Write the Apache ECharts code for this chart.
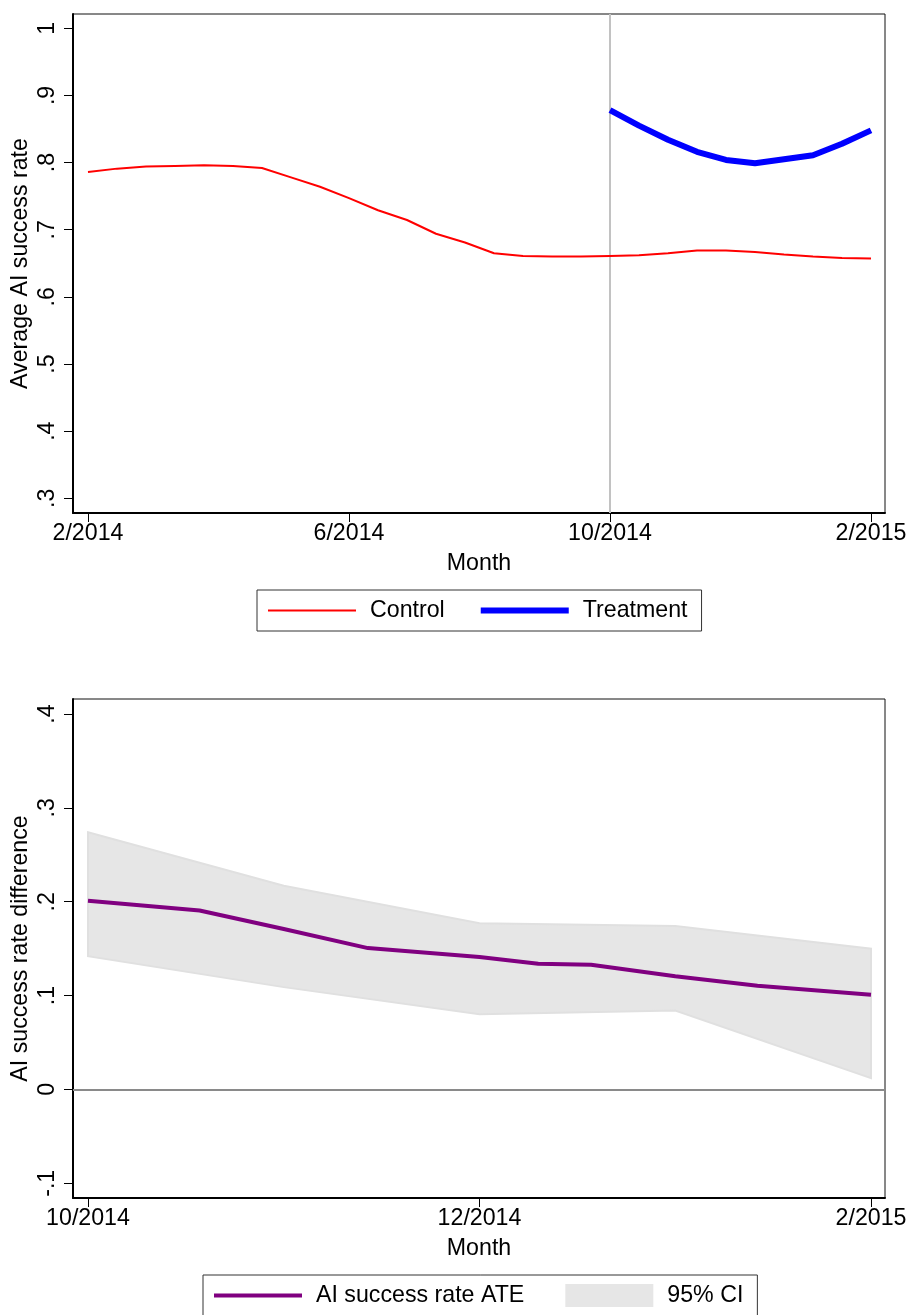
<!DOCTYPE html>
<html>
<head>
<meta charset="utf-8">
<script src="https://cdn.jsdelivr.net/npm/echarts@6/dist/echarts.min.js"></script>
<style>
  html, body { margin: 0; padding: 0; background: #ffffff; }
  #chart { width: 909px; height: 1315px; }
</style>
</head>
<body>
<div id="chart"></div>
<script>
// ---- Panel 1: average AI success rate by biweekly period (2/2014 - 2/2015) ----
// 27 periods span the year, so 9 periods ~ 4 months between labelled ticks.
const periods = [0, 1, 2, 3, 4, 5, 6, 7, 8, 9, 10, 11, 12, 13,
                 14, 15, 16, 17, 18, 19, 20, 21, 22, 23, 24, 25, 26, 27];
const controlRate = [0.786, 0.791, 0.794, 0.795, 0.796, 0.795, 0.792, 0.778, 0.764, 0.747,
                     0.729, 0.7145, 0.694, 0.681, 0.665, 0.661, 0.660, 0.660, 0.661, 0.662,
                     0.665, 0.669, 0.669, 0.667, 0.663, 0.660, 0.658, 0.657];
const treatmentStartPeriod = 18;
const treatmentRate = [0.878, 0.855, 0.834, 0.816, 0.804, 0.799, 0.805, 0.811, 0.828, 0.848];
const periodTicks = [0, 9, 18, 27];
const periodTickLabels = ['2/2014', '6/2014', '10/2014', '2/2015'];
const rateTicks = [0.3, 0.4, 0.5, 0.6, 0.7, 0.8, 0.9, 1.0];
const rateTickLabels = ['.3', '.4', '.5', '.6', '.7', '.8', '.9', '1'];

// ---- Panel 2: treatment effect on AI success rate, months since 10/2014 ----
const ateMonths = [0, 0.57, 1.0, 1.43, 2.0, 2.3, 2.57, 3.0, 3.42, 4.0];
const ateValues = [0.201, 0.1906, 0.171, 0.1506, 0.141, 0.1339, 0.1328, 0.1205, 0.1104, 0.1008];
const ciMonths = [0, 1, 2, 3, 4];
const ciUpper = [0.274, 0.217, 0.177, 0.174, 0.150];
const ciLower = [0.142, 0.109, 0.080, 0.084, 0.012];
const monthTicks = [0, 2, 4];
const monthTickLabels = ['10/2014', '12/2014', '2/2015'];
const diffTicks = [-0.1, 0, 0.1, 0.2, 0.3, 0.4];
const diffTickLabels = ['-.1', '0', '.1', '.2', '.3', '.4'];

const FONT = "'Liberation Sans', Arial, Helvetica, sans-serif";
const FS = 23.2;

function labelFor(ticks, labels) {
  return function (v) {
    const i = ticks.findIndex(t => Math.abs(t - v) < 1e-9);
    return i >= 0 ? labels[i] : '';
  };
}

function valueAxis(extra) {
  return Object.assign({
    type: 'value',
    axisLine: { show: true, onZero: false, lineStyle: { color: '#000', width: 2 } },
    axisTick: { show: true, length: 9, lineStyle: { color: '#000', width: 1 } },
    axisLabel: { color: '#000', fontFamily: FONT, fontSize: FS },
    splitLine: { show: false },
    nameTextStyle: { color: '#000', fontFamily: FONT, fontSize: FS },
    nameLocation: 'middle',
    nameMoveOverlap: false
  }, extra);
}

const controlData = periods.map((p, i) => [p, controlRate[i]]);
const treatmentData = treatmentRate.map((v, i) => [treatmentStartPeriod + i, v]);
const ateData = ateMonths.map((m, i) => [m, ateValues[i]]);
const ciData = ciMonths.map((m, i) => [m, ciLower[i], ciUpper[i]]);

const chart = echarts.init(document.getElementById('chart'), null, { renderer: 'canvas' });

const xAxis0 = valueAxis({
  gridIndex: 0, min: -0.517, max: 27.483,
  name: 'Month', nameGap: 39
});
xAxis0.axisTick.customValues = periodTicks;
xAxis0.axisLabel.customValues = periodTicks;
xAxis0.axisLabel.formatter = labelFor(periodTicks, periodTickLabels);
xAxis0.axisLabel.margin = 9;

const yAxis0 = valueAxis({
  gridIndex: 0, min: 0.2781, max: 1.0213,
  name: 'Average AI success rate', nameGap: 41
});
yAxis0.axisTick.customValues = rateTicks;
yAxis0.axisLabel.customValues = rateTicks;
yAxis0.axisLabel.formatter = labelFor(rateTicks, rateTickLabels);
yAxis0.axisLabel.rotate = 90;
yAxis0.axisLabel.margin = 14;

const xAxis1 = valueAxis({
  gridIndex: 1, min: -0.0766, max: 4.0715,
  name: 'Month', nameGap: 39
});
xAxis1.axisTick.customValues = monthTicks;
xAxis1.axisLabel.customValues = monthTicks;
xAxis1.axisLabel.formatter = labelFor(monthTicks, monthTickLabels);
xAxis1.axisLabel.margin = 9;

const yAxis1 = valueAxis({
  gridIndex: 1, min: -0.1157, max: 0.416,
  name: 'AI success rate difference', nameGap: 41
});
yAxis1.axisTick.customValues = diffTicks;
yAxis1.axisLabel.customValues = diffTicks;
yAxis1.axisLabel.formatter = labelFor(diffTicks, diffTickLabels);
yAxis1.axisLabel.rotate = 90;
yAxis1.axisLabel.margin = 14;

const legendText = { color: '#000', fontFamily: FONT, fontSize: FS, padding: [0, 0, 0, 9] };
// line-only legend keys: hide the default marker, keep the stroke at series width
const lineKey = (name, width) => ({ name: name, itemStyle: { opacity: 0 }, lineStyle: { width: width } });

chart.setOption({
  animation: false,
  backgroundColor: '#ffffff',
  grid: [
    { left: 73, top: 14, width: 812, height: 499, show: true, borderColor: '#111', borderWidth: 1,
      backgroundColor: 'transparent', containLabel: false, outerBoundsMode: 'none' },
    { left: 73, top: 699, width: 812, height: 499, show: true, borderColor: '#111', borderWidth: 1,
      backgroundColor: 'transparent', containLabel: false, outerBoundsMode: 'none' }
  ],
  xAxis: [xAxis0, xAxis1],
  yAxis: [yAxis0, yAxis1],
  legend: [
    {
      left: 257, top: 590,
      orient: 'horizontal',
      data: [lineKey('Control', 2), lineKey('Treatment', 6)],
      itemWidth: 88, itemHeight: 23, itemGap: 33,
      padding: [9, 14, 9, 10],
      borderColor: '#333', borderWidth: 1,
      selectedMode: false,
      textStyle: legendText
    },
    {
      left: 203, top: 1275,
      orient: 'horizontal',
      data: [lineKey('AI success rate ATE', 4), { name: '95% CI', icon: 'rect' }],
      itemWidth: 88, itemHeight: 23, itemGap: 41,
      padding: [9, 14, 9, 9],
      borderColor: '#333', borderWidth: 1,
      selectedMode: false,
      textStyle: legendText
    }
  ],
  series: [
    {
      name: 'Control', type: 'line', xAxisIndex: 0, yAxisIndex: 0,
      data: controlData, symbol: 'none', showSymbol: false,
      lineStyle: { color: '#ff0000', width: 2 },
      itemStyle: { color: '#ff0000' },
      z: 3,
      markLine: {
        silent: true, symbol: 'none', label: { show: false },
        lineStyle: { color: '#c2c2c2', width: 2, type: 'solid' },
        data: [{ xAxis: treatmentStartPeriod }],
        z: 1
      }
    },
    {
      name: 'Treatment', type: 'line', xAxisIndex: 0, yAxisIndex: 0,
      data: treatmentData, symbol: 'none', showSymbol: false,
      lineStyle: { color: '#0000ff', width: 6 },
      itemStyle: { color: '#0000ff' },
      z: 4
    },
    {
      name: '95% CI', type: 'custom', xAxisIndex: 1, yAxisIndex: 1,
      data: ciData,
      itemStyle: { color: '#e6e6e6' },
      z: 1,
      renderItem: function (params, api) {
        if (params.dataIndex !== 0) return null;
        const pts = [];
        for (let i = 0; i < ciMonths.length; i++) pts.push(api.coord([ciMonths[i], ciUpper[i]]));
        for (let i = ciMonths.length - 1; i >= 0; i--) pts.push(api.coord([ciMonths[i], ciLower[i]]));
        return {
          type: 'polygon',
          shape: { points: pts },
          style: { fill: '#e6e6e6', stroke: '#e0e0e0', lineWidth: 2 }
        };
      }
    },
    {
      name: 'AI success rate ATE', type: 'line', xAxisIndex: 1, yAxisIndex: 1,
      data: ateData, symbol: 'none', showSymbol: false,
      lineStyle: { color: '#800080', width: 4 },
      itemStyle: { color: '#800080' },
      z: 4,
      markLine: {
        silent: true, symbol: 'none', label: { show: false },
        lineStyle: { color: '#8a8a8a', width: 2, type: 'solid' },
        data: [{ yAxis: 0 }]
      }
    }
  ]
});
</script>
</body>
</html>
